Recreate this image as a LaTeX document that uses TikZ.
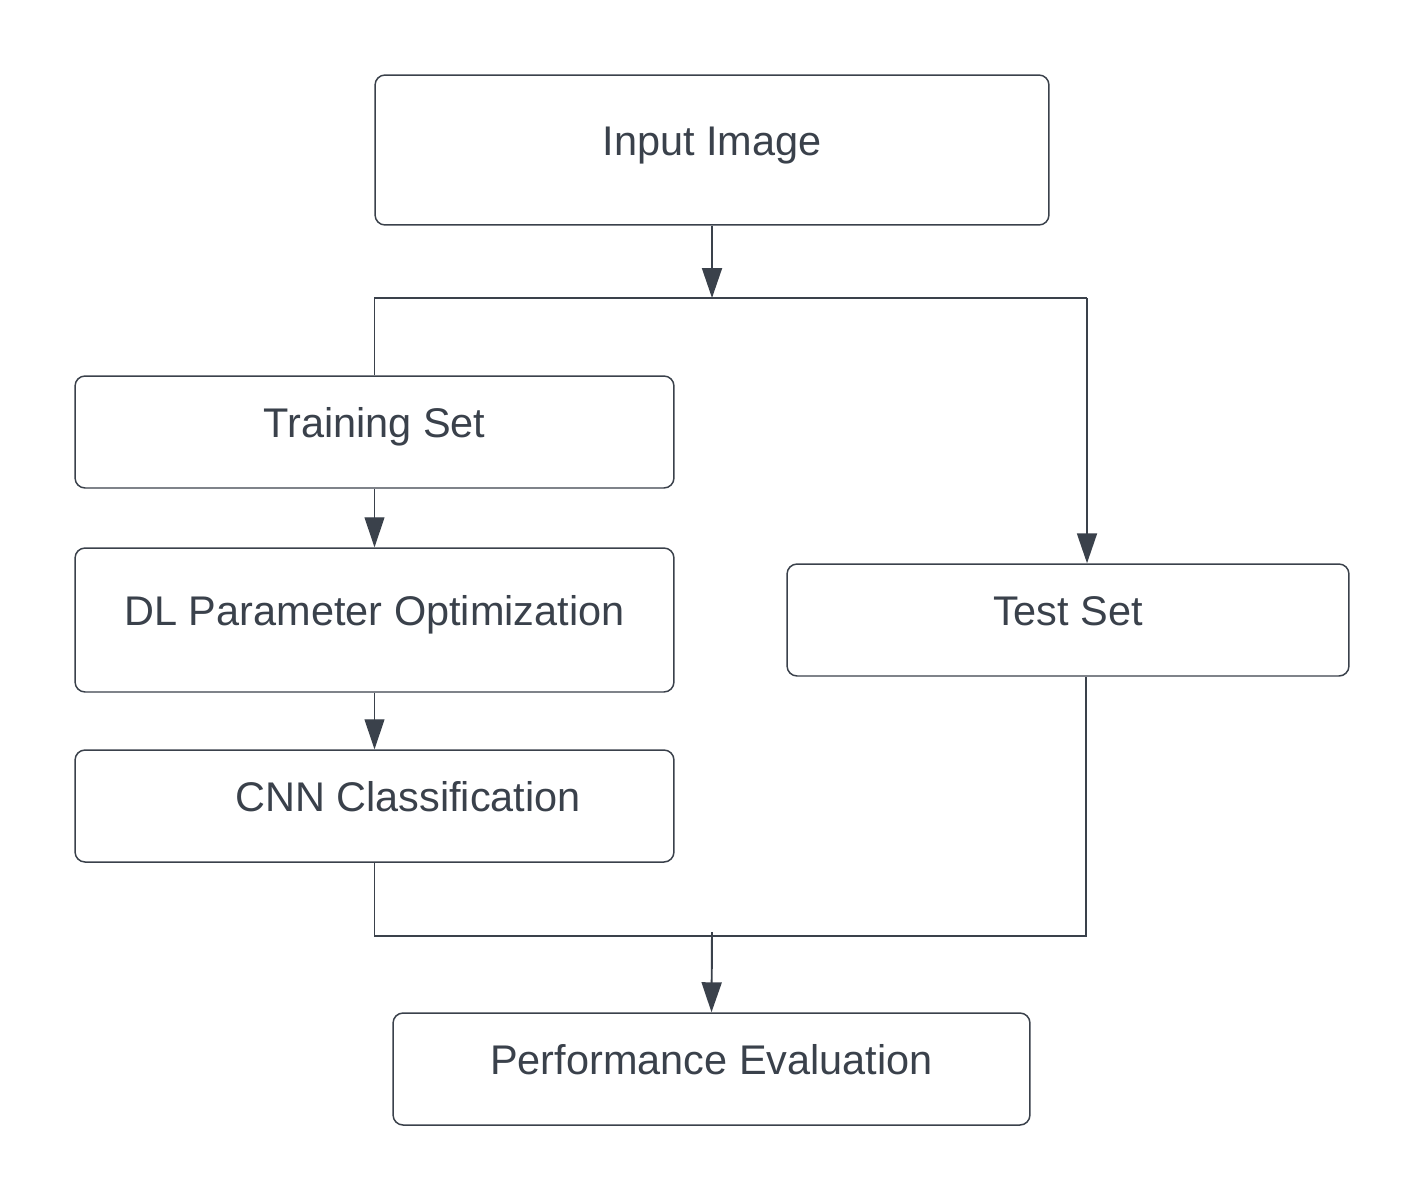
\documentclass[tikz,border=0pt]{standalone}
\usepackage{fontspec}
\setmainfont{Liberation Sans}
\usetikzlibrary{arrows.meta,positioning}
\definecolor{ink}{HTML}{3A414B}

\begin{document}
\begin{tikzpicture}[x=0.02cm,y=-0.02cm,
    box/.style={draw=ink,line width=0.85pt,rounded corners=0.2cm,text=ink,
      font=\fontsize{23.6}{28}\selectfont,text height=0.84em,text depth=0.21em,
      minimum height=2.24cm,inner sep=0pt},
    link/.style={draw=ink,line width=1.1pt},
    flow/.style={link,-{Triangle[length=0.6cm,width=0.4cm]}},
    thinflow/.style={flow,line width=0.6pt}]
    \useasboundingbox (0,0) rectangle (1425,1200);
    % boxes
    \node[box,minimum width=13.48cm,minimum height=3cm] (input) at (712,150) {Input Image};
    \node[box,minimum width=11.98cm] (train) at (374.5,432) {Training Set};
    \node[box,minimum width=11.98cm,minimum height=2.88cm] (dlopt) at (374.5,620) {DL Parameter Optimization};
    \node[box,minimum width=11.98cm] (cnn) at (374.5,806) {\hspace*{1.34cm}CNN Classification};
    \node[box,minimum width=11.24cm] (test) at (1068,620) {Test Set};
    \node[box,minimum width=12.74cm] (perf) at (711.5,1069) {Performance Evaluation};
    % junctions
    \coordinate (split) at (712,298);
    \coordinate (splitR) at (1087,298);
    \coordinate (merge) at (712,932);
    \coordinate (mergeR) at (1086,936);
    % connectors
    \draw[flow] (input) -- (split);
    \draw[link] (train.north) |- (splitR);
    \draw[flow] (splitR) -- (splitR |- test.north);
    \draw[thinflow] (train) -- (dlopt);
    \draw[thinflow] (dlopt) -- (cnn);
    \draw[link] (cnn.south) |- (mergeR) -- (mergeR |- test.south);
    \draw[flow] (merge) -- (perf.north);
\end{tikzpicture}
\end{document}
